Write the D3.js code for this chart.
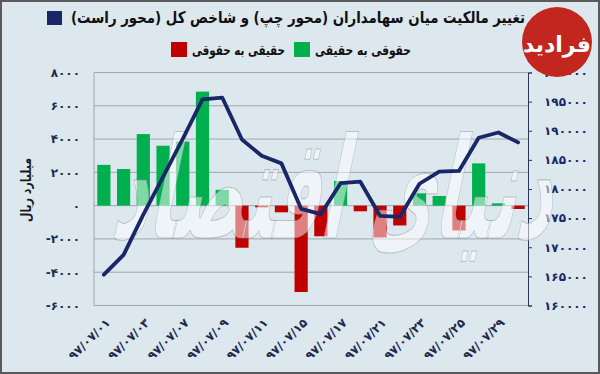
<!DOCTYPE html>
<html>
<head>
<meta charset="utf-8">
<script src="https://cdn.jsdelivr.net/npm/d3@7"></script>
<style>
  body { margin: 0; background: #fff; }
  svg text { font-family: "DejaVu Sans", sans-serif; font-weight: bold; }
</style>
</head>
<body>
<svg width="600" height="374"></svg>
<script>
// trading days, Mehr 1397
var dates = ["۹۷/۰۷/۰۱", "۹۷/۰۷/۰۲", "۹۷/۰۷/۰۳", "۹۷/۰۷/۰۴", "۹۷/۰۷/۰۷", "۹۷/۰۷/۰۸",
             "۹۷/۰۷/۰۹", "۹۷/۰۷/۱۰", "۹۷/۰۷/۱۱", "۹۷/۰۷/۱۴", "۹۷/۰۷/۱۵", "۹۷/۰۷/۱۶",
             "۹۷/۰۷/۱۷", "۹۷/۰۷/۱۸", "۹۷/۰۷/۲۱", "۹۷/۰۷/۲۲", "۹۷/۰۷/۲۳", "۹۷/۰۷/۲۴",
             "۹۷/۰۷/۲۵", "۹۷/۰۷/۲۸", "۹۷/۰۷/۲۹", "۹۷/۰۷/۳۰"];

// ownership change, billion rials (left axis)
var flow = [2450, 2200, 4300, 3600, 3850, 6850, 950, -2530, -100, -400, -5190,
            -1840, 1480, -340, -1910, -1190, 740, 580, -1490, 2540, 140, -200];

// TEDPIX (right axis)
var index = [165300, 168700, 175600, 182100, 188600, 195400, 195700, 188500, 185700, 184400, 176600,
             175700, 181000, 181250, 175400, 175200, 180900, 183000, 183100, 188800, 189700, 188000];

var leftTicks = [-6000, -4000, -2000, 0, 2000, 4000, 6000, 8000];
var rightTicks = [160000, 165000, 170000, 175000, 180000, 185000, 190000, 195000, 200000];
var labelDates = dates.filter(function(d, i) { return i % 2 == 0; });

var navy = "#1a2766", green = "#00b04f", red = "#c00000";

function fa(n) {
  return String(n).replace(/[0-9]/g, function(c) { return "۰۱۲۳۴۵۶۷۸۹"[+c]; });
}

var svg = d3.select("svg");

svg.append("rect")
    .attr("x", 1).attr("y", 1).attr("width", 598).attr("height", 372)
    .attr("fill", "#dce8ee").attr("stroke", "#5a5a5a").attr("stroke-width", 2);

var pLeft = 94, pRight = 528, pTop = 72.5, pBottom = 305.5;

var x = d3.scaleBand()
    .domain(dates)
    .range([pLeft, pRight])
    .paddingInner(0.33)
    .paddingOuter(0.165);

var y = d3.scaleLinear().domain([-6000, 8000]).range([pBottom, pTop]);
var y2 = d3.scaleLinear().domain([160000, 200000]).range([pBottom, pTop]);

// grid
svg.append("g")
  .selectAll("line")
  .data(leftTicks)
  .enter().append("line")
    .attr("x1", pLeft).attr("x2", pRight)
    .attr("y1", function(d) { return y(d); })
    .attr("y2", function(d) { return y(d); })
    .attr("stroke", "#9ea8ae").attr("stroke-width", 1);

svg.append("line")
    .attr("x1", pLeft).attr("x2", pLeft).attr("y1", pTop).attr("y2", pBottom)
    .attr("stroke", "#9ea8ae");

// left axis
var gl = svg.append("g")
    .attr("transform", "translate(" + pLeft + ",0)")
    .call(d3.axisLeft(y).tickValues(leftTicks).tickSize(0).tickPadding(14).tickFormat(fa));
gl.select(".domain").remove();
gl.selectAll("text").attr("fill", "#1e2a4e").style("font-size", "12px").style("letter-spacing", "2px");

// right axis
var gr = svg.append("g")
    .attr("transform", "translate(" + pRight + ",0)")
    .call(d3.axisRight(y2).tickValues(rightTicks).tickSize(4).tickPadding(12).tickFormat(fa));
gr.select(".domain").attr("stroke", "#2a3560");
gr.selectAll(".tick line").attr("stroke", "#2a3560");
gr.selectAll("text").attr("fill", navy).style("font-size", "12px").style("letter-spacing", "0.5px");

// x axis labels
var gx = svg.append("g")
    .attr("transform", "translate(0," + pBottom + ")")
    .call(d3.axisBottom(x).tickValues(labelDates).tickSize(0).tickPadding(0));
gx.select(".domain").remove();
gx.selectAll("text")
    .attr("fill", "#1e2a4e")
    .style("font-size", "12px")
    .style("text-anchor", "end")
    .attr("dy", "0.35em")
    .attr("transform", "translate(4,15) rotate(-45)");

// bars
svg.append("g")
  .selectAll("rect")
  .data(flow)
  .enter().append("rect")
    .attr("x", function(d, i) { return x(dates[i]); })
    .attr("width", x.bandwidth())
    .attr("y", function(d) { return y(Math.max(0, d)); })
    .attr("height", function(d) { return Math.abs(y(d) - y(0)); })
    .attr("fill", function(d) { return d >= 0 ? green : red; });

// watermark
svg.append("text")
    .attr("transform", "translate(330,238) skewX(-12)")
    .attr("text-anchor", "middle")
    .attr("fill", "#ffffff")
    .attr("fill-opacity", 0.5)
    .attr("stroke", "#7f8a90")
    .attr("stroke-opacity", 0.45)
    .attr("stroke-width", 1)
    .attr("textLength", 440)
    .attr("lengthAdjust", "spacingAndGlyphs")
    .style("font-size", "140px")
    .text("دنیای اقتصاد");

// index line
var line = d3.line()
    .x(function(d, i) { return x(dates[i]) + x.bandwidth() / 2; })
    .y(function(d) { return y2(d); });

svg.append("path")
    .datum(index)
    .attr("d", line)
    .attr("fill", "none")
    .attr("stroke", navy)
    .attr("stroke-width", 3.8)
    .attr("stroke-linejoin", "round")
    .attr("stroke-linecap", "round");

// y title
svg.append("text")
    .attr("transform", "translate(31,190) rotate(-90)")
    .attr("text-anchor", "middle")
    .attr("fill", "#1a1a1a")
    .attr("textLength", 64)
    .attr("lengthAdjust", "spacingAndGlyphs")
    .style("font-size", "14px")
    .text("میلیارد ریال");

// title + legend
svg.append("text")
    .attr("x", 298).attr("y", 23)
    .attr("text-anchor", "middle")
    .attr("fill", "#111")
    .attr("textLength", 454)
    .attr("lengthAdjust", "spacingAndGlyphs")
    .style("font-size", "16px")
    .text("تغییر مالکیت میان سهامداران (محور چپ) و شاخص کل (محور راست)");
svg.append("rect")
    .attr("x", 47).attr("y", 11).attr("width", 15).attr("height", 14)
    .attr("fill", navy);

var legend = [
  {label: "حقوقی به حقیقی", color: green, from: 315, to: 411},
  {label: "حقیقی به حقوقی", color: red, from: 192, to: 285}
];
legend.forEach(function(l) {
  svg.append("text")
      .attr("x", (l.from + l.to) / 2).attr("y", 55)
      .attr("text-anchor", "middle")
      .attr("fill", "#111")
      .attr("textLength", l.to - l.from)
      .attr("lengthAdjust", "spacingAndGlyphs")
      .style("font-size", "14px")
      .text(l.label);
  svg.append("rect")
      .attr("x", l.from - 21).attr("y", 42).attr("width", 16).attr("height", 15)
      .attr("fill", l.color);
});

// logo
svg.append("circle")
    .attr("cx", 557).attr("cy", 42).attr("r", 35)
    .attr("fill", "#c3261f");
svg.append("text")
    .attr("x", 557).attr("y", 52)
    .attr("text-anchor", "middle")
    .attr("fill", "#fff")
    .style("font-size", "22px")
    .text("فرادید");
</script>
</body>
</html>
